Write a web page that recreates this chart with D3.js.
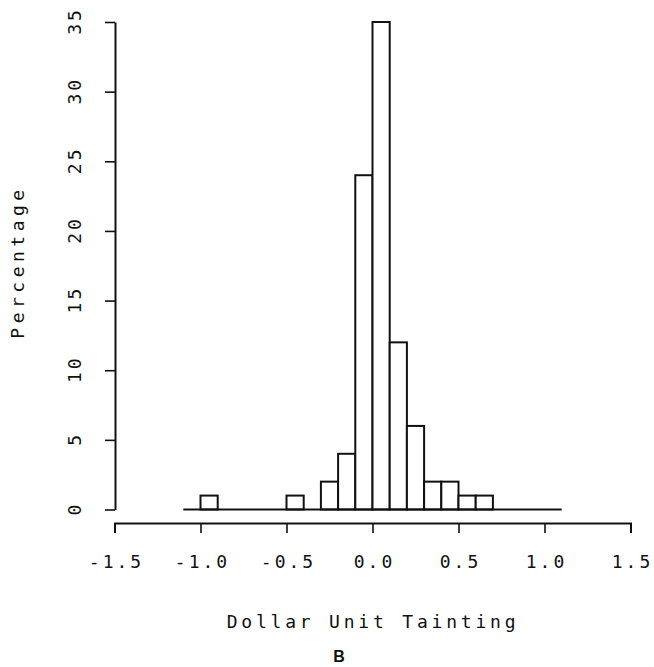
<!DOCTYPE html>
<html>
<head>
<meta charset="utf-8">
<script src="https://cdn.jsdelivr.net/npm/d3@7"></script>
<style>
  body { margin: 0; background: #fff; }
  text { font-family: "DejaVu Sans Mono", monospace; fill: #111; }
</style>
</head>
<body>
<script>
const width = 654;
const height = 667;

// histogram bins (left edge, width 0.1) and percentages
const binStarts = [-1.1, -1.0, -0.9, -0.8, -0.7, -0.6, -0.5, -0.4, -0.3, -0.2, -0.1,
                   0.0, 0.1, 0.2, 0.3, 0.4, 0.5, 0.6, 0.7, 0.8, 0.9, 1.0];
const percents  = [0, 1, 0, 0, 0, 0, 1, 0, 2, 4, 24,
                   35, 12, 6, 2, 2, 1, 1, 0, 0, 0, 0];
const binWidth = 0.1;

const xTicks = [-1.5, -1.0, -0.5, 0.0, 0.5, 1.0, 1.5];
const yTicks = [0, 5, 10, 15, 20, 25, 30, 35];

const x = d3.scaleLinear().domain([-1.5, 1.5]).range([114.5, 630.5]);
const y = d3.scaleLinear().domain([0, 35]).range([509.5, 22]);
const xAxisY = 523;
const yAxisX = 115;

const svg = d3.select('body').append('svg')
    .attr('width', width)
    .attr('height', height);

// bars
svg.append('g')
    .selectAll('rect')
    .data(binStarts.map((b, i) => ({x0: b, v: percents[i]})))
    .enter().append('rect')
    .attr('x', d => x(d.x0))
    .attr('y', d => y(d.v))
    .attr('width', d => x(d.x0 + binWidth) - x(d.x0))
    .attr('height', d => y(0) - y(d.v))
    .attr('fill', 'white')
    .attr('stroke', '#111')
    .attr('stroke-width', 2);

// baseline under the zero bins
svg.append('line')
    .attr('x1', x(binStarts[0])).attr('x2', x(binStarts[binStarts.length - 1] + binWidth))
    .attr('y1', y(0)).attr('y2', y(0))
    .attr('stroke', '#111').attr('stroke-width', 2);

// x axis
const xAxis = d3.axisBottom(x)
    .tickValues(xTicks)
    .tickSize(10)
    .tickSizeOuter(10)
    .tickPadding(22)
    .tickFormat(d3.format('.1f'));

const gx = svg.append('g')
    .attr('transform', `translate(0,${xAxisY})`)
    .call(xAxis);
gx.select('.domain').attr('stroke', '#111').attr('stroke-width', 2);
gx.selectAll('.tick line').attr('stroke', '#111').attr('stroke-width', 1.6);
gx.selectAll('.tick text')
    .text(d => d3.format('.1f')(d).replace('−', '-'))
    .attr('font-family', '"DejaVu Sans Mono", monospace')
    .attr('font-size', 18)
    .attr('letter-spacing', 3)
    .attr('dx', 1.5)
    .attr('fill', '#111');

// y axis
const yAxis = d3.axisLeft(y)
    .tickValues(yTicks)
    .tickSize(10)
    .tickSizeOuter(0)
    .tickFormat(d3.format('d'));

const gy = svg.append('g')
    .attr('transform', `translate(${yAxisX},0)`)
    .call(yAxis);
gy.select('.domain').attr('stroke', '#111').attr('stroke-width', 2);
gy.selectAll('.tick line').attr('stroke', '#111').attr('stroke-width', 1.6);
gy.selectAll('.tick text')
    .attr('font-family', '"DejaVu Sans Mono", monospace')
    .attr('font-size', 18)
    .attr('letter-spacing', 3)
    .attr('fill', '#111')
    .attr('text-anchor', 'middle')
    .attr('transform', 'rotate(-90)')
    .attr('x', 1.5)
    .attr('y', -40)
    .attr('dy', '0.35em');

// axis titles
svg.append('text')
    .attr('x', 373)
    .attr('y', 628)
    .attr('text-anchor', 'middle')
    .attr('font-size', 18)
    .attr('letter-spacing', 3.8)
    .text('Dollar Unit Tainting');

svg.append('text')
    .attr('transform', 'translate(24,262) rotate(-90)')
    .attr('text-anchor', 'middle')
    .attr('font-size', 18)
    .attr('letter-spacing', 4.5)
    .text('Percentage');

svg.append('text')
    .attr('x', 339)
    .attr('y', 662)
    .attr('text-anchor', 'middle')
    .attr('font-weight', 'bold')
    .attr('font-size', 16)
    .style('font-family', '"Liberation Sans", Arial, sans-serif')
    .text('B');
</script>
</body>
</html>
